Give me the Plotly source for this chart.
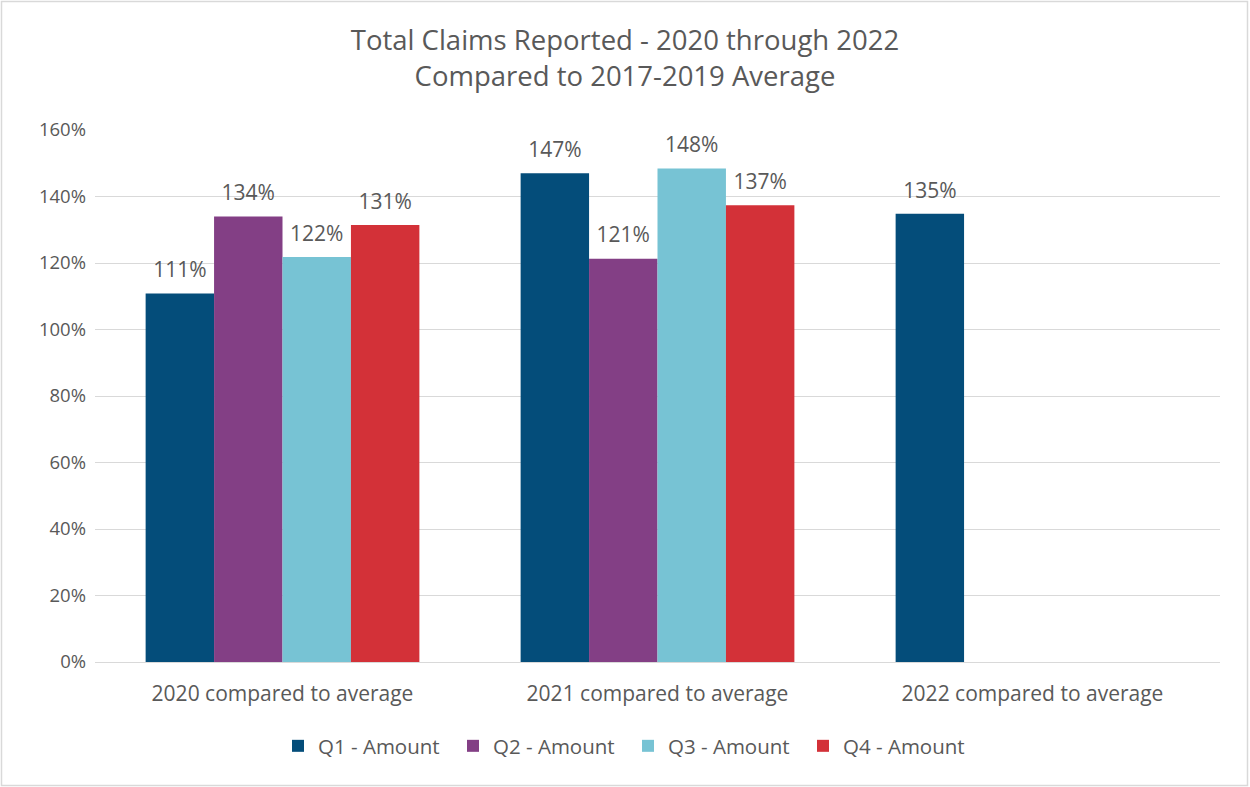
import plotly.graph_objects as go

categories = ["2020 compared to average", "2021 compared to average", "2022 compared to average"]
series_names = ["Q1 - Amount", "Q2 - Amount", "Q3 - Amount", "Q4 - Amount"]
q1 = [110.8, 147.0, 134.8]
q2 = [134.0, 121.3, None]
q3 = [121.8, 148.4, None]
q4 = [131.4, 137.4, None]
colors = ["#044D7A", "#833F85", "#77C3D4", "#D33138"]

W, H = 1250, 787
ml, mr, mt, mb = 95, 30, 130, 125
pw, ph = W - ml - mr, H - mt - mb
grey = "#595959"
font = "Open Sans"

fig = go.Figure()
for i, (name, vals, c) in enumerate(zip(series_names, [q1, q2, q3, q4], colors)):
    fig.add_trace(go.Bar(
        x=categories, y=vals, name=name, marker_color=c, marker_line_width=0,
        offsetgroup=str(i), alignmentgroup="a", hoverinfo="skip",
    ))
for i, (name, vals) in enumerate(zip(series_names, [q1, q2, q3, q4])):
    fig.add_trace(go.Scatter(
        x=categories, y=vals, mode="markers+text", showlegend=False,
        offsetgroup=str(i), alignmentgroup="a",
        marker=dict(size=16, opacity=0), texttemplate="%{y:.0f}%",
        textposition="top center", cliponaxis=False, hoverinfo="skip",
        textfont=dict(size=21, color=grey, family=font),
    ))

fig.update_layout(
    width=W, height=H,
    margin=dict(l=ml, r=mr, t=mt, b=mb),
    paper_bgcolor="white", plot_bgcolor="white",
    font=dict(family=font, color=grey, size=18),
    title=dict(text="Total Claims Reported - 2020 through 2022<br>Compared to 2017-2019 Average",
               x=625 / W, xref="container", y=1 - 50 / H, yref="container",
               xanchor="center", yanchor="middle",
               font=dict(size=27.5, color=grey, family=font)),
    barmode="group", bargap=0.27, bargroupgap=0,
    scattermode="group", scattergap=0.27,
    legend=dict(orientation="h", x=628 / W, xref="container", xanchor="center",
                y=1 - 746 / H, yref="container", yanchor="middle",
                font=dict(size=20.5, color=grey, family=font),
                entrywidth=130, entrywidthmode="pixels", traceorder="normal"),
    showlegend=True,
)
fig.update_yaxes(range=[0, 160], dtick=20, ticksuffix="%", showgrid=True,
                 gridcolor="#D9D9D9", gridwidth=1.3, zeroline=True, zerolinecolor="#D9D9D9",
                 zerolinewidth=1.3, tickfont=dict(size=18.5, color=grey, family=font), ticks="",
                 ticklabelstandoff=8, showline=False)
fig.update_xaxes(showline=True, linecolor="#D9D9D9", linewidth=1.3, ticks="",
                 ticklabelstandoff=13,
                 tickfont=dict(size=21, color=grey, family=font))
fig.add_shape(type="rect", xref="paper", yref="paper",
              x0=(1.5 - ml) / pw, x1=(1247.5 - ml) / pw,
              y0=-(785.5 - (mt + ph)) / ph, y1=(mt + ph - 1.5) / ph,
              line=dict(color="#D9D9D9", width=1.5), fillcolor="rgba(0,0,0,0)", layer="below")
fig.write_html("out.html", config={"displayModeBar": False},
               post_script="document.body.style.margin='0';")
